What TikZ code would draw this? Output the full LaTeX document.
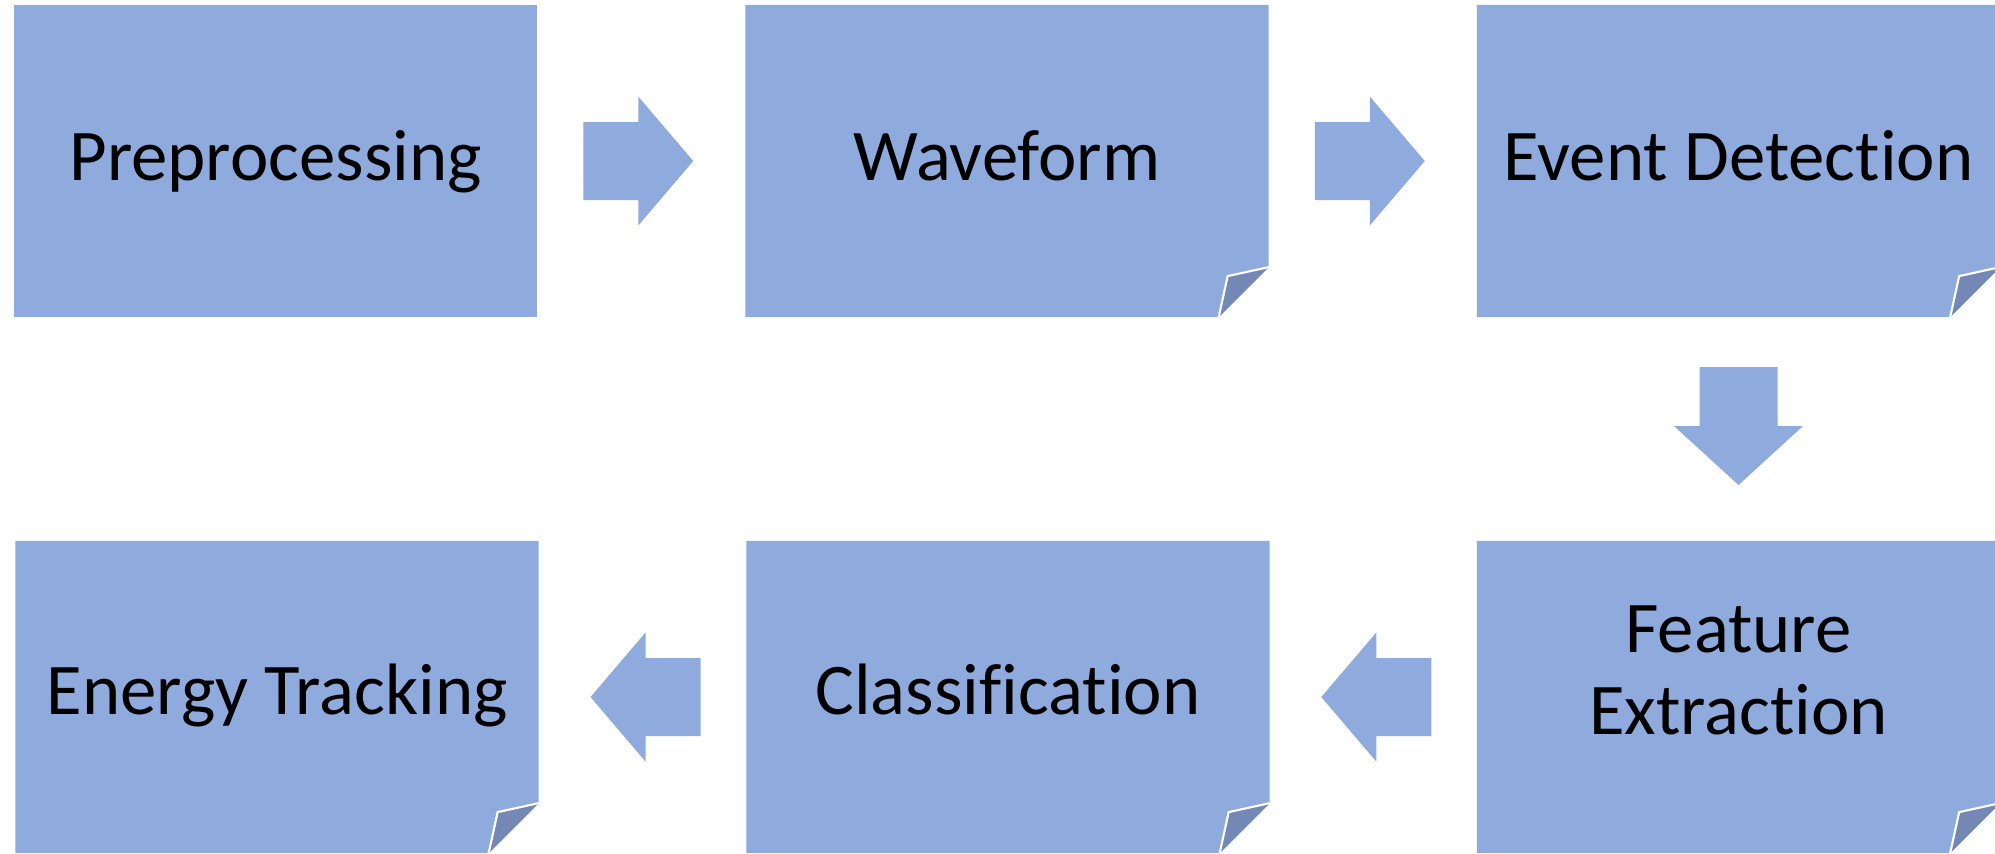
\documentclass[tikz,border=0pt]{standalone}
\usepackage{fontspec}
\setmainfont{Carlito}[Ligatures=NoCommon]
\usetikzlibrary{calc}
\definecolor{boxblue}{HTML}{8FAADC}
\definecolor{folddark}{HTML}{7388B5}
\newcommand{\dogearbox}[1]{%
  \fill[boxblue] (#1.north west) -- (#1.north east) -- ($(#1.south east)+(0,-50)$)
     -- ($(#1.south east)+(-50,0)$) -- (#1.south west) -- cycle;
  \fill[folddark] ($(#1.south east)+(0,-50)$) -- ($(#1.south east)+(-41,-41)$)
     -- ($(#1.south east)+(-50,0)$) -- cycle;
  \draw[white, line width=0.6pt] ($(#1.south east)+(0,-50)$) -- ($(#1.south east)+(-41,-41)$)
     -- ($(#1.south east)+(-50,0)$);
}
\tikzset{
  boxnode/.style={rectangle, minimum width=5.23cm, minimum height=3.12cm, inner sep=0pt, outer sep=0pt},
  lbl/.style={anchor=base, inner sep=0pt, font=\fontsize{20.7pt}{24pt}\selectfont, text=black},
  pics/blockarrow/.style={code={%
    \fill[boxblue] (-#1,-39) -- (0,-39) -- (0,-64.5) -- (#1,0) -- (0,64.5) -- (0,39) -- (-#1,39) -- cycle;}}
}
\begin{document}
\begin{tikzpicture}[x=0.01cm, y=-0.01cm]
\useasboundingbox (0,0) rectangle (1995,853);
\clip (0,0) rectangle (1995,853);
% boxes
\node[boxnode] (b1) at (275.5,161) {};
\node[boxnode] (b2) at (1007,161) {};
\node[boxnode] (b3) at (1738.5,161) {};
\node[boxnode] (b4) at (277,697) {};
\node[boxnode] (b5) at (1008,697) {};
\node[boxnode] (b6) at (1738.5,697) {};
\fill[boxblue] (b1.north west) rectangle (b1.south east);
\dogearbox{b2}
\dogearbox{b3}
\dogearbox{b4}
\dogearbox{b5}
\dogearbox{b6}
% labels
\node[lbl] (t1) at ($(b1.center)+(0,19)$) {Preprocessing};
\node[lbl] (t2) at ($(b2.center)+(0,19)$) {Waveform};
\node[lbl] (t3) at ($(b3.center)+(0,19)$) {Event Detection};
\node[lbl] (t4) at ($(b4.center)+(0,17)$) {Energy Tracking};
\node[lbl] (t5) at ($(b5.center)+(0,17)$) {Classification};
\node[lbl] (t6) at ($(b6.center)+(0,-45)$) {Feature};
\node[lbl] (t6b) at ($(b6.center)+(0,37)$) {Extraction};
% block arrows
\coordinate (a1) at ($(b1.east)!0.5!(b2.west)+(-3,0)$);
\coordinate (a2) at ($(b2.east)!0.5!(b3.west)+(-3,0)$);
\coordinate (a3) at ($(b3.south)!0.5!(b6.north)+(0,-3)$);
\coordinate (a4) at ($(b6.west)!0.5!(b5.east)+(3,0)$);
\coordinate (a5) at ($(b5.west)!0.5!(b4.east)+(3,0)$);
\pic at (a1) {blockarrow=55};
\pic at (a2) {blockarrow=55};
\pic[rotate=-90] at (a3) {blockarrow=59};
\pic[rotate=180] at (a4) {blockarrow=55};
\pic[rotate=180] at (a5) {blockarrow=55};
\end{tikzpicture}
\end{document}
